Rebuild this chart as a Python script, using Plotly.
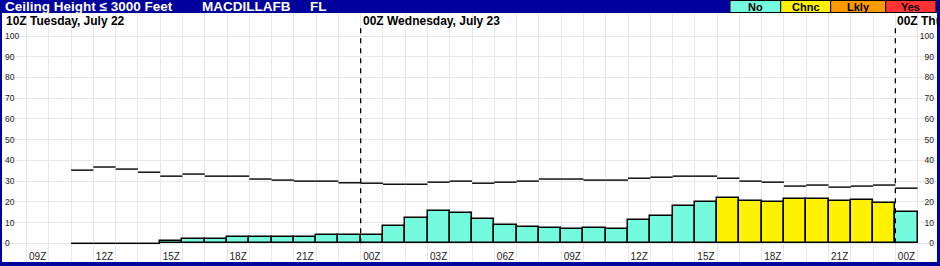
import plotly.graph_objects as go

# ---------------- data ----------------
# slot index 0 = 09Z Tuesday; one slot per hour
tick_slots = [0, 3, 6, 9, 12, 15, 18, 21, 24, 27, 30, 33, 36, 39]
tick_labels = ["09Z", "12Z", "15Z", "18Z", "21Z", "00Z", "03Z", "06Z",
               "09Z", "12Z", "15Z", "18Z", "21Z", "00Z"]

data_slots = list(range(2, 40))  # 11Z Tue .. 00Z Thu
bar_values = [0, 0, 0, 0, 1.0, 2.1, 2.1, 2.9, 2.9, 2.9, 2.9, 3.9, 3.9, 3.9,
              8.2, 12.1, 15.6, 14.5, 11.6, 8.7, 7.7, 7.3, 6.8, 7.3, 6.8,
              11.1, 13.1, 17.9, 20.0, 21.8, 20.5, 20.0, 21.3, 21.3, 20.5,
              20.8, 19.5, 15.0]
line_values = [35.3, 36.8, 35.8, 34.3, 32.4, 33.4, 32.4, 32.4, 31.0, 30.5,
               30.0, 30.0, 29.2, 29.0, 28.5, 28.5, 29.5, 30.0, 29.0, 29.5,
               30.0, 31.0, 31.0, 30.5, 30.5, 31.4, 31.9, 32.4, 32.4, 31.4,
               30.0, 29.5, 27.6, 28.1, 27.1, 27.6, 28.1, 26.6]
bar_categories = (["No"] * 29) + (["Chnc"] * 8) + ["No"]

category_names = ["No", "Chnc", "Lkly", "Yes"]
category_colors = {"No": "#74FADC", "Chnc": "#FFF200", "Lkly": "#FF9900", "Yes": "#FF3333"}

y_ticks = [0, 10, 20, 30, 40, 50, 60, 70, 80, 90, 100]

header_title = "Ceiling Height ≤ 3000 Feet"
station = "MACDILLAFB"
state = "FL"
day_titles = ["10Z Tuesday, July 22", "00Z Wednesday, July 23", "00Z Thursday, July 24"]
day_start_slots = [None, 15, 39]

# ---------------- layout constants ----------------
W, H = 940, 266
ML, MR, MT, MB = 2, 3, 13, 4
PW, PH = W - ML - MR, H - MT - MB
NAVY = "#00009C"
GRID = "#E8E8E8"


def px_x(px):
    return (px - ML) / PW


def px_y(py):
    return (H - MB - py) / PH


fig = go.Figure()

# bars (non-zero)
nz = [(s, v, c) for s, v, c in zip(data_slots, bar_values, bar_categories) if v > 0]
fig.add_trace(go.Bar(
    x=[t[0] for t in nz], y=[t[1] for t in nz], width=1.0,
    marker=dict(color=[category_colors[t[2]] for t in nz],
                line=dict(color="black", width=1.5)),
    showlegend=False, hoverinfo="skip"))

# zero-valued bars drawn as a flat line at 0
zx, zy = [], []
for s, v in zip(data_slots, bar_values):
    if v == 0:
        zx += [s - 0.5, s + 0.5, None]
        zy += [0, 0, None]
fig.add_trace(go.Scatter(x=zx, y=zy, mode="lines",
                         line=dict(color="black", width=1.5),
                         showlegend=False, hoverinfo="skip"))

# per-hour horizontal segments
lx, ly = [], []
for s, v in zip(data_slots, line_values):
    lx += [s - 0.5, s + 0.5, None]
    ly += [v, v, None]
fig.add_trace(go.Scatter(x=lx, y=ly, mode="lines", yaxis="y2",
                         line=dict(color="black", width=1.4),
                         showlegend=False, hoverinfo="skip"))

shapes = []
annotations = []

# day boundary dashed lines and titles
for title, start in zip(day_titles, day_start_slots):
    if start is None:
        annotations.append(dict(xref="paper", yref="paper", x=px_x(4), y=px_y(20.5),
                                text=title, showarrow=False, xanchor="left", yanchor="middle",
                                font=dict(family="Liberation Sans", size=12, color="black", weight="bold")))
    else:
        shapes.append(dict(type="line", xref="x", yref="y", x0=start - 0.5, x1=start - 0.5,
                           y0=0, y1=105.5, line=dict(color="black", width=1.3, dash="5px,5px"),
                           layer="above"))
        annotations.append(dict(xref="x", yref="paper", x=start - 0.5, y=px_y(20.5),
                                text=title, showarrow=False, xanchor="left", yanchor="middle",
                                xshift=0,
                                font=dict(family="Liberation Sans", size=12, color="black", weight="bold")))

# header texts
hfont = dict(family="Liberation Sans", size=13.5, color="white", weight="bold")
for txt, xp in [(header_title, 3), (station, 200), (state, 308)]:
    annotations.append(dict(xref="paper", yref="paper", x=px_x(xp), y=px_y(6.5),
                            text=txt, showarrow=False, xanchor="left", yanchor="middle",
                            font=hfont))

# header legend boxes
box_edges = [730, 780.7, 830.7, 885.7, 936]
for i, name in enumerate(category_names):
    x0, x1 = box_edges[i], box_edges[i + 1]
    shapes.append(dict(type="rect", xref="paper", yref="paper",
                       x0=px_x(x0), x1=px_x(x1), y0=px_y(12.5), y1=px_y(0.5),
                       fillcolor=category_colors[name], line=dict(color="black", width=1),
                       layer="above"))
    annotations.append(dict(xref="paper", yref="paper", x=px_x((x0 + x1) / 2), y=px_y(6.8),
                            text=name, showarrow=False, xanchor="center", yanchor="middle",
                            font=dict(family="Liberation Sans", size=11, color="black", weight="bold")))

yr = [-9.02, 111.1]
fig.update_layout(
    width=W, height=H, autosize=False,
    margin=dict(l=ML, r=MR, t=MT, b=MB, pad=0, autoexpand=False),
    paper_bgcolor=NAVY, plot_bgcolor="white",
    bargap=0, showlegend=False,
    font=dict(family="Liberation Sans", color="#222"),
    xaxis=dict(range=[-1.60, 40.37], tickmode="array", tickvals=tick_slots, ticktext=tick_labels,
               showgrid=False, zeroline=False, showline=False, ticks="",
               ticklabelposition="inside", ticklabelstandoff=-3,
               tickfont=dict(size=10, color="#222"),
               minor=dict(tickmode="array", tickvals=[s - 0.5 for s in range(0, 41)],
                          showgrid=True, gridcolor=GRID, gridwidth=1, ticks=""),
               fixedrange=True),
    yaxis=dict(range=yr, tickmode="array", tickvals=y_ticks, showgrid=True, gridcolor=GRID,
               zeroline=False, showline=False, ticks="", ticklabelposition="inside",
               tickfont=dict(size=8.5, color="#222"), fixedrange=True),
    yaxis2=dict(range=yr, overlaying="y", side="right", tickmode="array", tickvals=y_ticks,
                showgrid=False, zeroline=False, showline=False, ticks="",
                ticklabelposition="inside", tickfont=dict(size=8.5, color="#222"), fixedrange=True),
    shapes=shapes, annotations=annotations,
)

fig.write_html("out.html", config={"displayModeBar": False})
